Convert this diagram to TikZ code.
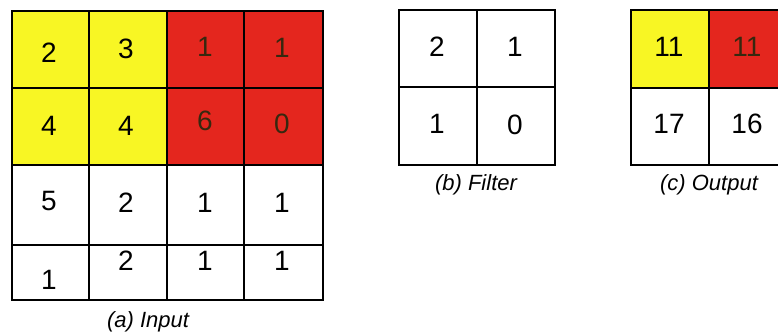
\documentclass[tikz,border=0pt]{standalone}
\usepackage{fontspec}
\setmainfont{Liberation Sans}
\definecolor{cyel}{RGB}{248,246,36}
\definecolor{cred}{RGB}{228,38,30}
\definecolor{dtxt}{RGB}{55,40,15}
\begin{document}
\begin{tikzpicture}[x=1pt,y=-1pt,
  cellbox/.style={draw=black,line width=1.6pt,inner sep=0pt,anchor=north west},
  num/.style={font=\fontsize{28}{28}\selectfont,inner sep=0pt},
  rnum/.style={num,text=dtxt},
  captext/.style={font=\fontsize{22}{22}\selectfont\itshape,inner sep=0pt}]
\clip (0,0) rectangle (778,336);
\fill[white] (0,0) rectangle (778,336);
% input grid
\node[cellbox,fill=cyel,minimum width=77pt,minimum height=77pt] (i11) at (11,10) {};
\node[cellbox,fill=cyel,minimum width=78pt,minimum height=77pt] (i12) at (88,10) {};
\node[cellbox,fill=cred,minimum width=77pt,minimum height=77pt] (i13) at (166,10) {};
\node[cellbox,fill=cred,minimum width=79pt,minimum height=77pt] (i14) at (243,10) {};
\node[cellbox,fill=cyel,minimum width=77pt,minimum height=77pt] (i21) at (11,87) {};
\node[cellbox,fill=cyel,minimum width=78pt,minimum height=77pt] (i22) at (88,87) {};
\node[cellbox,fill=cred,minimum width=77pt,minimum height=77pt] (i23) at (166,87) {};
\node[cellbox,fill=cred,minimum width=79pt,minimum height=77pt] (i24) at (243,87) {};
\node[cellbox,minimum width=77pt,minimum height=80pt] (i31) at (11,164) {};
\node[cellbox,minimum width=78pt,minimum height=80pt] (i32) at (88,164) {};
\node[cellbox,minimum width=77pt,minimum height=80pt] (i33) at (166,164) {};
\node[cellbox,minimum width=79pt,minimum height=80pt] (i34) at (243,164) {};
\node[cellbox,minimum width=77pt,minimum height=55pt] (i41) at (11,244) {};
\node[cellbox,minimum width=78pt,minimum height=55pt] (i42) at (88,244) {};
\node[cellbox,minimum width=77pt,minimum height=55pt] (i43) at (166,244) {};
\node[cellbox,minimum width=79pt,minimum height=55pt] (i44) at (243,244) {};
% input numbers
\node[num] (n11) at (49,53) {2};
\node[num] (n12) at (126,49) {3};
\node[rnum] (n13) at (205,47) {1};
\node[rnum] (n14) at (282,48) {1};
\node[num] (n21) at (49,126) {4};
\node[num] (n22) at (126,126) {4};
\node[rnum] (n23) at (205,121) {6};
\node[rnum] (n24) at (282,124) {0};
\node[num] (n31) at (49,201) {5};
\node[num] (n32) at (126,203) {2};
\node[num] (n33) at (205,203) {1};
\node[num] (n34) at (282,203) {1};
\node[num] (n41) at (49,280) {1};
\node[num] (n42) at (126,261) {2};
\node[num] (n43) at (205,261) {1};
\node[num] (n44) at (282,261) {1};
\node[captext] (capa) at (148,322) {(a) Input};
% filter
\node[cellbox,minimum width=78pt,minimum height=77pt] (f11) at (398,9) {};
\node[cellbox,minimum width=78pt,minimum height=77pt] (f12) at (476,9) {};
\node[cellbox,minimum width=78pt,minimum height=78pt] (f21) at (398,86) {};
\node[cellbox,minimum width=78pt,minimum height=78pt] (f22) at (476,86) {};
\node[num] (g11) at (437,47) {2};
\node[num] (g12) at (515,47) {1};
\node[num] (g21) at (437,124) {1};
\node[num] (g22) at (515,125) {0};
\node[captext] (capb) at (476,185) {(b) Filter};
% output
\node[cellbox,fill=cyel,minimum width=78pt,minimum height=78pt] (o11) at (630,9) {};
\node[cellbox,fill=cred,minimum width=78pt,minimum height=78pt] (o12) at (708,9) {};
\node[cellbox,minimum width=78pt,minimum height=77pt] (o21) at (630,87) {};
\node[cellbox,minimum width=78pt,minimum height=77pt] (o22) at (708,87) {};
\node[num] (p11) at (669,47) {11};
\node[rnum] (p12) at (747,47) {11};
\node[num] (p21) at (669,124) {17};
\node[num] (p22) at (747,124) {16};
\node[captext] (capc) at (709,185) {(c) Output};
\end{tikzpicture}
\end{document}
